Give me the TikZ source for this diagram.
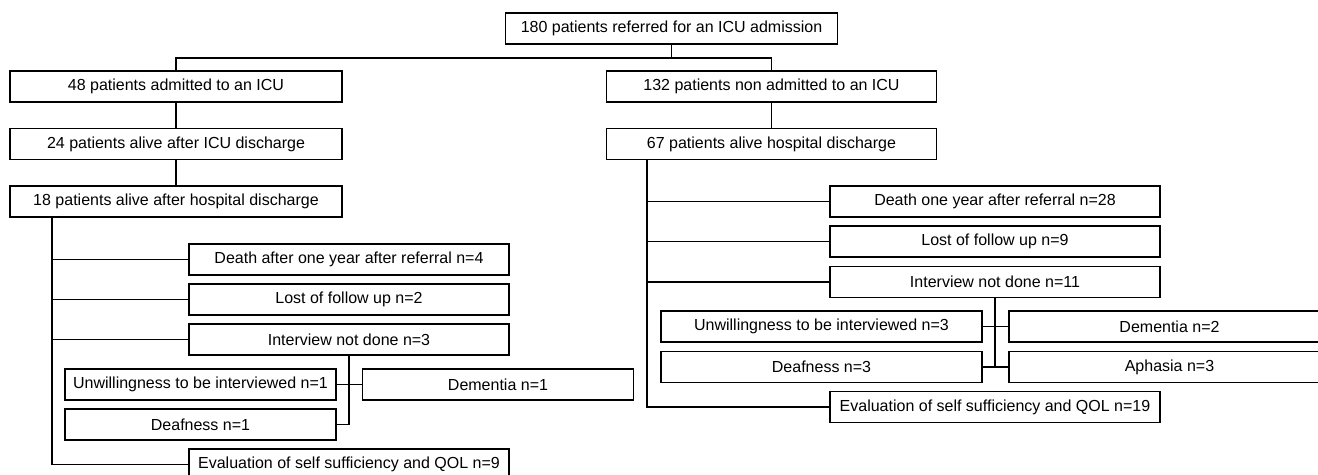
\documentclass[tikz,border=0pt]{standalone}
\usepackage{fontspec}
\setmainfont{Liberation Sans}
\usepackage{tikz}
\usetikzlibrary{positioning}
\tikzset{blk/.style={rectangle,draw,line width=0.6pt,minimum height=15.5pt,inner sep=0pt,font=\fontsize{8}{9.6}\selectfont}}
\tikzset{wmain/.style={blk,minimum width=166pt}}
\tikzset{wlkid/.style={blk,minimum width=160pt}}
\tikzset{wrkid/.style={blk,minimum width=165pt}}
\tikzset{wlsub/.style={blk,minimum width=135.5pt}}
\tikzset{wrsub/.style={blk,minimum width=160.5pt}}
\tikzset{cn/.style={line width=0.6pt}}

\begin{document}
\begin{tikzpicture}[x=0.5pt,y=-0.5pt]
        \clip (0,0) rectangle (1318,475);
        \node[wmain] (top) at (671.5,28.5) {180 patients referred for an ICU admission};
        \node[wmain] (adm) at (176,86.5) {48 patients admitted to an ICU};
        \node[wmain] (alive1) at (176,144) {24 patients alive after ICU discharge};
        \node[wmain] (alive2) at (176,201.5) {18 patients alive after hospital discharge};
        \node[wrkid] (ndm) at (771.5,86.5) {132 patients non admitted to an ICU};
        \node[wrkid] (ralive) at (771.5,144) {67 patients alive hospital discharge};
        % left branch
        \node[wlkid] (ldeath) at (349,259.5) {Death after one year after referral n=4};
        \node[wlkid] (llost) at (349,299.5) {Lost of follow up n=2};
        \node[wlkid] (lintv) at (349,339.5) {Interview not done n=3};
        \node[wlsub] (lunw) at (200.5,384.5) {Unwillingness to be interviewed n=1};
        \node[wlsub] (ldem) at (498,384.5) {Dementia n=1};
        \node[wlsub] (ldeaf) at (200.5,424.5) {Deafness n=1};
        \node[wlkid] (leval) at (349,464.5) {Evaluation of self sufficiency and QOL n=9};
        % right branch
        \node[wrkid] (rdeath) at (995,201.5) {Death one year after referral n=28};
        \node[wrkid] (rlost) at (995,241.5) {Lost of follow up n=9};
        \node[wrkid] (rintv) at (995,282) {Interview not done n=11};
        \node[wrsub] (runw) at (821.5,326.5) {Unwillingness to be interviewed n=3};
        \node[wrsub] (rdem) at (1169.5,326.5) {Dementia n=2};
        \node[wrsub] (rdeaf) at (821.5,367) {Deafness n=3};
        \node[wrsub] (raph) at (1169.5,367) {Aphasia n=3};
        \node[wrkid] (reval) at (995,407) {Evaluation of self sufficiency and QOL n=19};

        \coordinate (split) at (671.5,58);
        \coordinate (ltr) at (52,217);
        \coordinate (rtr) at (647,160);

        \draw [cn] (top) -- (split);
        \draw [cn] (adm.north) |- (split) -| (ndm.north);
        \draw [cn] (adm) -- (alive1);
        \draw [cn] (alive1) -- (alive2);
        \draw [cn] (ndm) -- (ralive);

        \draw [cn] (ltr) |- (leval.west);
        \draw [cn] (ldeath.west) -- (ldeath.west -| ltr);
        \draw [cn] (llost.west) -- (llost.west -| ltr);
        \draw [cn] (lintv.west) -- (lintv.west -| ltr);
        \draw [cn] (lintv.south) |- (ldeaf.east);
        \draw [cn] (lunw.east) -- (ldem.west);

        \draw [cn] (rtr) |- (reval.west);
        \draw [cn] (rdeath.west) -- (rdeath.west -| rtr);
        \draw [cn] (rlost.west) -- (rlost.west -| rtr);
        \draw [cn] (rintv.west) -- (rintv.west -| rtr);
        \draw [cn] (rintv.south) -- (rintv.south |- rdeaf.east);
        \draw [cn] (runw.east) -- (rdem.west);
        \draw [cn] (rdeaf.east) -- (raph.west);

    \end{tikzpicture}
\end{document}
